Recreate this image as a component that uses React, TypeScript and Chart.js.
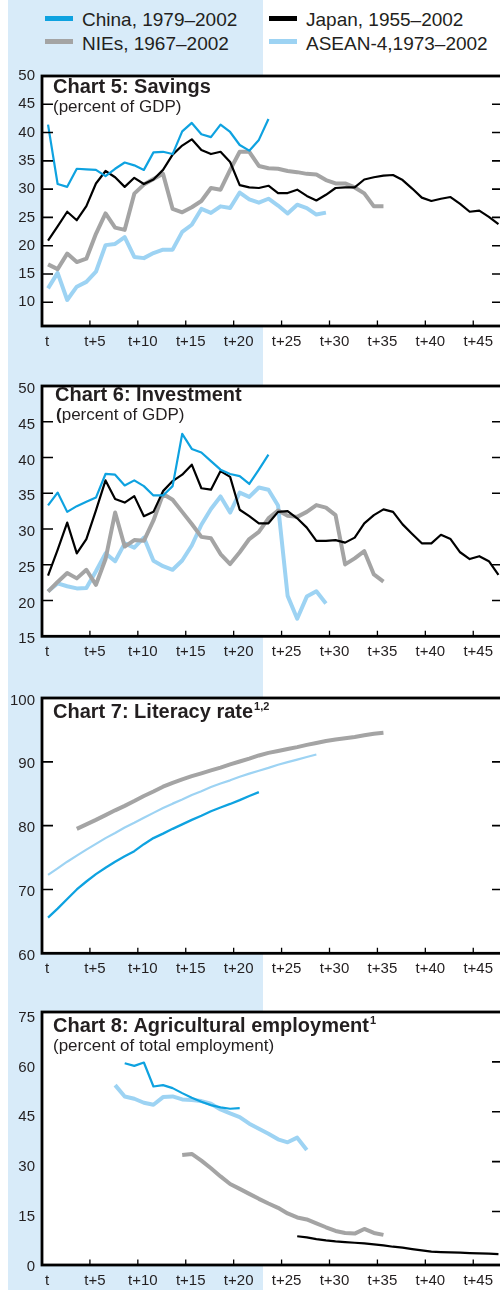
import React, { useEffect, useRef } from 'react';
import { Chart, registerables } from 'chart.js';

Chart.register(...registerables);

const FONT = "'Liberation Sans', Arial, Helvetica, sans-serif";
const INK = '#231f20';
const C_CHINA = '#0ea2e0';
const C_JAPAN = '#000000';
const C_NIES = '#a4a4a4';
const C_ASEAN = '#9dd3f3';
const BAND = '#d8ebf9';

// x axis: years since start of each economy's period
const X_TICKS = [0, 5, 10, 15, 20, 25, 30, 35, 40, 45];
const X_LABELS = ['t', 't+5', 't+10', 't+15', 't+20', 't+25', 't+30', 't+35', 't+40', 't+45'];
const POINT_OFFSET = 0.63;

const LEGEND_NAMES = ['China, 1979–2002', 'Japan, 1955–2002', 'NIEs, 1967–2002', 'ASEAN-4,1973–2002'];

// Chart 5: Savings (percent of GDP)
const SAV_CHINA = [41.4, 30.9, 30.4, 33.6, 33.5, 33.4, 32.3, 33.6, 34.7, 34.2, 33.4, 36.5, 36.6, 36.2, 40.2, 41.7, 39.7, 39.2, 41.4, 40.1, 37.8, 36.8, 38.7, 42.4];
const SAV_JAPAN = [20.9, 23.4, 26.0, 24.5, 27.0, 31.0, 33.2, 32.1, 30.4, 32.0, 30.9, 31.7, 33.4, 36.1, 37.7, 38.8, 36.9, 36.2, 36.6, 34.8, 30.7, 30.3, 30.2, 30.6, 29.3, 29.3, 29.9, 28.8, 28.0, 29.0, 30.2, 30.3, 30.3, 31.7, 32.1, 32.4, 32.5, 31.6, 30.1, 28.5, 27.9, 28.3, 28.6, 27.4, 26.0, 26.2, 25.1, 23.8];
const SAV_NIES = [16.7, 15.85, 18.6, 17.1, 17.7, 22.1, 25.7, 23.2, 22.8, 29.2, 30.8, 31.8, 32.7, 26.5, 25.9, 26.8, 27.9, 30.2, 29.9, 33.4, 36.6, 36.6, 34.1, 33.7, 33.6, 33.2, 33.0, 32.7, 32.6, 31.6, 31.0, 31.0, 30.3, 29.25, 26.95, 26.95];
const SAV_ASEAN = [12.45, 15.2, 10.4, 12.75, 13.6, 15.4, 20.1, 20.3, 21.5, 18.0, 17.8, 18.7, 19.3, 19.3, 22.45, 23.7, 26.5, 25.8, 26.95, 26.65, 29.4, 28.2, 27.6, 28.3, 27.1, 25.7, 27.25, 26.65, 25.5, 25.85];
const SAV_Y_TICKS = [10, 15, 20, 25, 30, 35, 40, 45, 50];

// Chart 6: Investment (percent of GDP)
const INV_CHINA = [33.3, 35.1, 32.4, 33.2, 33.8, 34.4, 37.7, 37.6, 36.1, 36.8, 36.0, 34.7, 34.7, 36.0, 43.3, 41.2, 40.7, 39.5, 38.3, 37.7, 37.4, 36.3, 38.3, 40.4];
const INV_JAPAN = [23.5, 27.1, 30.9, 26.6, 28.6, 32.6, 36.8, 34.2, 33.7, 34.6, 31.8, 32.4, 35.3, 36.7, 37.6, 39.0, 35.7, 35.5, 38.1, 37.3, 32.7, 31.8, 30.8, 30.8, 32.4, 32.5, 31.5, 30.2, 28.35, 28.35, 28.45, 28.1, 28.8, 30.8, 31.95, 32.75, 32.4, 30.65, 29.3, 28.0, 28.0, 29.2, 28.6, 26.75, 25.8, 26.2, 25.5, 23.6];
const INV_NIES = [21.25, 22.6, 23.85, 23.1, 24.3, 22.2, 25.8, 32.3, 27.55, 28.45, 28.35, 31.2, 34.9, 34.1, 32.4, 30.7, 28.9, 28.7, 26.5, 25.1, 26.75, 28.6, 29.6, 31.5, 32.6, 31.85, 31.7, 32.4, 33.35, 33.0, 31.95, 25.05, 25.9, 26.9, 23.65, 22.65];
const INV_ASEAN = [21.3, 22.4, 22.0, 21.7, 21.75, 24.1, 26.6, 25.5, 28.0, 27.4, 28.8, 25.55, 24.8, 24.3, 25.6, 27.7, 30.6, 32.8, 34.55, 32.3, 35.1, 34.5, 35.8, 35.5, 33.3, 20.65, 17.45, 20.55, 21.3, 19.6];
const INV_Y_TICKS = [15, 20, 25, 30, 35, 40, 45, 50];

// Chart 7: Literacy rate
const LIT_CHINA = [65.6, 67.0, 68.5, 70.0, 71.25, 72.4, 73.4, 74.35, 75.2, 76.0, 77.1, 78.05, 78.75, 79.5, 80.2, 80.9, 81.55, 82.25, 82.85, 83.4, 84.0, 84.65, 85.25];
const LIT_CHINA_START = 0;
const LIT_NIES = [79.5, 80.2, 80.9, 81.65, 82.4, 83.1, 83.85, 84.65, 85.35, 86.1, 86.7, 87.25, 87.75, 88.2, 88.65, 89.1, 89.6, 90.05, 90.5, 91.0, 91.4, 91.7, 92.0, 92.3, 92.65, 92.95, 93.25, 93.5, 93.7, 93.9, 94.15, 94.4, 94.55];
const LIT_NIES_START = 3;
const LIT_ASEAN = [72.3, 73.3, 74.35, 75.3, 76.25, 77.15, 78.05, 78.85, 79.7, 80.45, 81.25, 82.0, 82.75, 83.45, 84.1, 84.8, 85.4, 86.05, 86.6, 87.1, 87.65, 88.15, 88.6, 89.05, 89.55, 89.95, 90.35, 90.75, 91.15];
const LIT_ASEAN_START = 0;
const LIT_Y_TICKS = [60, 70, 80, 90, 100];

// Chart 8: Agricultural employment (percent of total employment)
const AGR_CHINA = [59.6, 58.8, 59.8, 52.6, 53.0, 52.1, 50.6, 49.2, 48.0, 47.0, 46.3, 45.9, 46.1];
const AGR_CHINA_START = 8;
const AGR_JAPAN = [7.55, 7.2, 6.7, 6.3, 6.0, 5.8, 5.6, 5.4, 5.1, 4.8, 4.4, 4.1, 3.7, 3.3, 2.9, 2.8, 2.7, 2.6, 2.5, 2.4, 2.3, 2.2];
const AGR_JAPAN_START = 26;
const AGR_NIES = [32.0, 32.3, 30.3, 28.0, 25.55, 23.25, 21.8, 20.3, 18.8, 17.4, 16.1, 14.4, 13.2, 12.6, 11.45, 10.25, 9.15, 8.55, 8.35, 9.75, 8.55, 7.95];
const AGR_NIES_START = 14;
const AGR_ASEAN = [53.0, 49.6, 48.9, 47.7, 47.1, 49.4, 49.6, 48.7, 48.5, 48.2, 47.4, 45.7, 44.5, 43.4, 41.4, 39.9, 38.4, 36.7, 35.8, 37.2, 33.5];
const AGR_ASEAN_START = 7;
const AGR_Y_TICKS = [0, 15, 30, 45, 60, 75];

type LineDef = { label: string; values: number[]; start: number; color: string; width: number };

type ChartDef = {
  top: number;
  height: number;
  padTop: number;
  axisH: number;
  yMin: number;
  yMax: number;
  yTicks: number[];
  yLabelOffset: number;
  leftTicks: number[];
  rightTicks: number[];
  lines: LineDef[];
};

const CANVAS_W = 510;

function toPoints(values: number[], start: number) {
  return values.map((v, k) => ({ x: start + k + POINT_OFFSET, y: v }));
}

function makeFramePlugin(leftTicks: number[], rightTicks: number[]) {
  return {
    id: 'frame',
    beforeDraw(chart: any) {
      const { ctx, chartArea: a } = chart;
      ctx.save();
      ctx.fillStyle = '#ffffff';
      ctx.fillRect(a.left, a.top, a.right - a.left, a.bottom - a.top);
      ctx.restore();
    },
    afterDatasetsDraw(chart: any) {
      const { ctx, chartArea: a, scales } = chart;
      const xs = scales.x;
      const ys = scales.y;
      ctx.save();
      ctx.strokeStyle = '#000';
      ctx.lineWidth = 1.6;
      ctx.beginPath();
      for (const v of leftTicks) {
        const py = ys.getPixelForValue(v);
        ctx.moveTo(a.left, py);
        ctx.lineTo(a.left + 11, py);
      }
      for (const v of rightTicks) {
        const py = ys.getPixelForValue(v);
        ctx.moveTo(a.right - 10, py);
        ctx.lineTo(a.right, py);
      }
      ctx.stroke();
      ctx.lineWidth = 1.3;
      ctx.beginPath();
      for (const v of X_TICKS) {
        if (v === 0) continue;
        const px = xs.getPixelForValue(v);
        ctx.moveTo(px, a.bottom);
        ctx.lineTo(px, a.bottom - 5.5);
      }
      ctx.stroke();
      ctx.lineWidth = 2.8;
      ctx.strokeRect(a.left, a.top, a.right - a.left, a.bottom - a.top);
      ctx.restore();
    },
  };
}

function LineChart({ def }: { def: ChartDef }) {
  const ref = useRef<HTMLCanvasElement>(null);
  useEffect(() => {
    const canvas = ref.current;
    if (!canvas) return;
    const tickFont = { family: FONT, size: 15 };
    const chart = new Chart(canvas, {
      type: 'line',
      data: {
        datasets: def.lines.map((l) => ({
          label: l.label,
          data: toPoints(l.values, l.start),
          borderColor: l.color,
          backgroundColor: l.color,
          borderWidth: l.width,
          pointRadius: 0,
          pointHoverRadius: 0,
          tension: 0,
          fill: false,
          borderJoinStyle: 'round' as const,
          borderCapStyle: 'butt' as const,
        })),
      },
      options: {
        animation: false,
        responsive: false,
        maintainAspectRatio: false,
        devicePixelRatio: 1,
        events: [],
        layout: { padding: { top: def.padTop, right: 8, left: 0, bottom: 0 } },
        plugins: {
          legend: { display: false },
          tooltip: { enabled: false },
          title: { display: false },
        },
        scales: {
          x: {
            type: 'linear',
            min: 0,
            max: 48,
            grid: { display: false, drawTicks: false },
            border: { display: false },
            ticks: {
              font: tickFont,
              color: INK,
              padding: 7,
              labelOffset: 5,
              autoSkip: false,
              maxRotation: 0,
              minRotation: 0,
              callback: (v: any) => {
                const i = X_TICKS.indexOf(Number(v));
                return i >= 0 ? X_LABELS[i] : '';
              },
            },
            afterBuildTicks: (s: any) => {
              s.ticks = X_TICKS.map((v) => ({ value: v }));
            },
            afterFit: (s: any) => {
              s.height = def.axisH;
            },
          },
          y: {
            type: 'linear',
            min: def.yMin,
            max: def.yMax,
            grid: { display: false, drawTicks: false },
            border: { display: false },
            ticks: {
              font: tickFont,
              color: INK,
              padding: 7,
              labelOffset: def.yLabelOffset,
              autoSkip: false,
              callback: (v: any) => String(v),
            },
            afterBuildTicks: (s: any) => {
              s.ticks = def.yTicks.map((v) => ({ value: v }));
            },
            afterFit: (s: any) => {
              s.width = 42;
            },
          },
        },
      } as any,
      plugins: [makeFramePlugin(def.leftTicks, def.rightTicks)],
    });
    return () => chart.destroy();
  }, [def]);
  return (
    <canvas
      ref={ref}
      width={CANVAS_W}
      height={def.height}
      style={{ position: 'absolute', left: 0, top: def.top, width: CANVAS_W, height: def.height, display: 'block' }}
    />
  );
}

const CH5: ChartDef = {
  top: 60, height: 300, padTop: 11, axisH: 34,
  yMin: 5.8, yMax: 50, yTicks: SAV_Y_TICKS, yLabelOffset: 0,
  leftTicks: [10, 15, 20, 25, 30, 35, 40, 45],
  rightTicks: [10, 15, 20, 25, 30, 35, 40, 45],
  lines: [
    { label: LEGEND_NAMES[0], values: SAV_CHINA, start: 0, color: C_CHINA, width: 2.2 },
    { label: LEGEND_NAMES[1], values: SAV_JAPAN, start: 0, color: C_JAPAN, width: 2.2 },
    { label: LEGEND_NAMES[2], values: SAV_NIES, start: 0, color: C_NIES, width: 4 },
    { label: LEGEND_NAMES[3], values: SAV_ASEAN, start: 0, color: C_ASEAN, width: 4 },
  ],
};

const CH6: ChartDef = {
  top: 370, height: 300, padTop: 12.7, axisH: 33.7,
  yMin: 15, yMax: 50, yTicks: INV_Y_TICKS, yLabelOffset: 3,
  leftTicks: [20, 25, 30, 35, 40, 45],
  rightTicks: [20, 25, 35, 40, 45],
  lines: [
    { label: LEGEND_NAMES[0], values: INV_CHINA, start: 0, color: C_CHINA, width: 2.2 },
    { label: LEGEND_NAMES[1], values: INV_JAPAN, start: 0, color: C_JAPAN, width: 2.2 },
    { label: LEGEND_NAMES[2], values: INV_NIES, start: 0, color: C_NIES, width: 4 },
    { label: LEGEND_NAMES[3], values: INV_ASEAN, start: 0, color: C_ASEAN, width: 4 },
  ],
};

const CH7: ChartDef = {
  top: 682, height: 300, padTop: 12.7, axisH: 28.7,
  yMin: 60, yMax: 100, yTicks: LIT_Y_TICKS, yLabelOffset: 2.5,
  leftTicks: [70, 80, 90],
  rightTicks: [70, 80, 90],
  lines: [
    { label: LEGEND_NAMES[0], values: LIT_CHINA, start: LIT_CHINA_START, color: C_CHINA, width: 2.3 },
    { label: LEGEND_NAMES[3], values: LIT_ASEAN, start: LIT_ASEAN_START, color: C_ASEAN, width: 2.2 },
    { label: LEGEND_NAMES[2], values: LIT_NIES, start: LIT_NIES_START, color: C_NIES, width: 4 },
  ],
};

const CH8: ChartDef = {
  top: 996, height: 294, padTop: 13, axisH: 25,
  yMin: -1.1, yMax: 75, yTicks: AGR_Y_TICKS, yLabelOffset: 5.5,
  leftTicks: [],
  rightTicks: [15, 30, 45, 60],
  lines: [
    { label: LEGEND_NAMES[0], values: AGR_CHINA, start: AGR_CHINA_START, color: C_CHINA, width: 2.2 },
    { label: LEGEND_NAMES[1], values: AGR_JAPAN, start: AGR_JAPAN_START, color: C_JAPAN, width: 2.2 },
    { label: LEGEND_NAMES[2], values: AGR_NIES, start: AGR_NIES_START, color: C_NIES, width: 4 },
    { label: LEGEND_NAMES[3], values: AGR_ASEAN, start: AGR_ASEAN_START, color: C_ASEAN, width: 4 },
  ],
};

const abs = (left: number, top: number, extra: React.CSSProperties = {}): React.CSSProperties => ({
  position: 'absolute',
  left,
  top,
  whiteSpace: 'nowrap',
  fontFamily: FONT,
  color: INK,
  ...extra,
});

const titleStyle = { fontSize: 20, lineHeight: '20px', fontWeight: 700 } as const;
const subStyle = { fontSize: 17, lineHeight: '17px', fontWeight: 400 } as const;
const supStyle: React.CSSProperties = { fontSize: 11, position: 'relative', top: -8, marginLeft: 1 };

function LegendItem({ x, y, color, text }: { x: number; y: number; color: string; text: string }) {
  return (
    <>
      <div style={{ position: 'absolute', left: x, top: y - 2.25, width: 28, height: 4.5, background: color }} />
      <div style={abs(x + 37, y - 8, { fontSize: 19, lineHeight: '19px' })}>{text}</div>
    </>
  );
}

export default function App() {
  return (
    <div
      style={{
        position: 'fixed',
        left: 0,
        top: 0,
        width: 500,
        height: 1290,
        overflow: 'hidden',
        background: '#ffffff',
      }}
    >
      <div style={{ position: 'absolute', left: 8, top: 0, width: 255, height: 1290, background: BAND }} />

      <LegendItem x={45} y={18.3} color={C_CHINA} text={LEGEND_NAMES[0]} />
      <LegendItem x={269} y={18.3} color={C_JAPAN} text={LEGEND_NAMES[1]} />
      <LegendItem x={45} y={41.5} color={C_NIES} text={LEGEND_NAMES[2]} />
      <LegendItem x={269} y={41.5} color={C_ASEAN} text={LEGEND_NAMES[3]} />

      <LineChart def={CH5} />
      <LineChart def={CH6} />
      <LineChart def={CH7} />
      <LineChart def={CH8} />

      <div style={abs(53, 76, titleStyle)}>Chart 5: Savings</div>
      <div style={abs(53, 97.6, subStyle)}>(percent of GDP)</div>

      <div style={abs(55, 384, titleStyle)}>Chart 6: Investment</div>
      <div style={abs(56, 405.6, subStyle)}>
        <span style={{ fontWeight: 700 }}>(</span>percent of GDP)
      </div>

      <div style={abs(53, 701.4, titleStyle)}>
        Chart 7: Literacy rate<span style={supStyle}>1,2</span>
      </div>

      <div style={abs(53, 1015.4, titleStyle)}>
        Chart 8: Agricultural employment<span style={supStyle}>1</span>
      </div>
      <div style={abs(53, 1037.3, subStyle)}>(percent of total employment)</div>
    </div>
  );
}
